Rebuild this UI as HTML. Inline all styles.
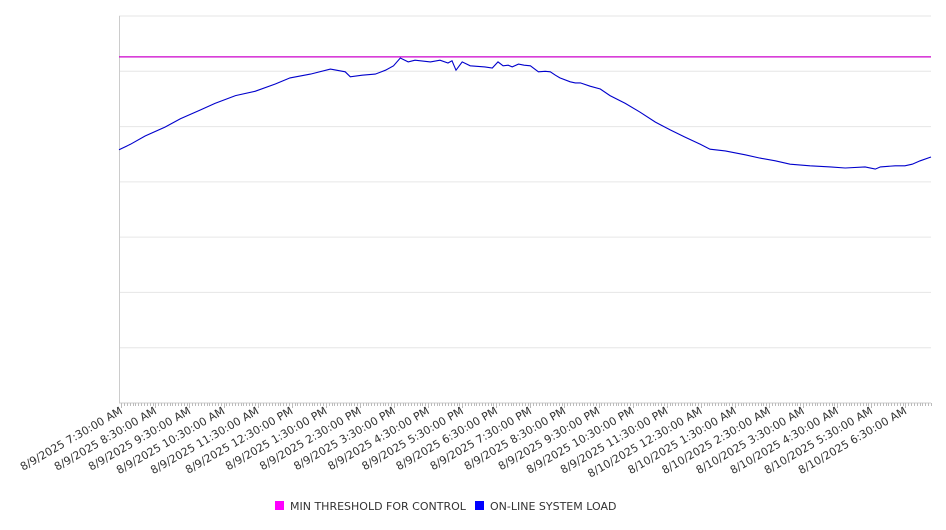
<!DOCTYPE html>
<html><head><meta charset="utf-8"><style>
body{margin:0;background:#fff;width:946px;height:526px;overflow:hidden;font-family:"DejaVu Sans","Liberation Sans",sans-serif}
</style></head><body>
<svg width="946" height="526">
<g id="grid"></g><g id="ticks"></g><g id="labels"></g><g id="series"></g>
<g font-size="11" fill="#333">
<rect x="275" y="501" width="9" height="9" fill="#ff00ff"/>
<text x="290" y="510">MIN THRESHOLD FOR CONTROL</text>
<rect x="475" y="501" width="9" height="9" fill="#0000ff"/>
<text x="490" y="510">ON-LINE SYSTEM LOAD</text>
</g>
</svg>
<script>
const tickLabels=["8/9/2025 7:30:00 AM","8/9/2025 8:30:00 AM","8/9/2025 9:30:00 AM","8/9/2025 10:30:00 AM","8/9/2025 11:30:00 AM","8/9/2025 12:30:00 PM","8/9/2025 1:30:00 PM","8/9/2025 2:30:00 PM","8/9/2025 3:30:00 PM","8/9/2025 4:30:00 PM","8/9/2025 5:30:00 PM","8/9/2025 6:30:00 PM","8/9/2025 7:30:00 PM","8/9/2025 8:30:00 PM","8/9/2025 9:30:00 PM","8/9/2025 10:30:00 PM","8/9/2025 11:30:00 PM","8/10/2025 12:30:00 AM","8/10/2025 1:30:00 AM","8/10/2025 2:30:00 AM","8/10/2025 3:30:00 AM","8/10/2025 4:30:00 AM","8/10/2025 5:30:00 AM","8/10/2025 6:30:00 AM"];
const loadMinutes=[-4,16,42,77,104,139,165,201,236,271,297,333,368,394,403,424,447,465,479,491,505,517,544,561,575,582,589,600,614,640,653,663,672,681,688,699,709,720,734,746,755,764,772,790,799,808,825,843,860,887,913,940,966,992,1019,1036,1063,1098,1124,1151,1177,1212,1248,1274,1309,1327,1336,1362,1379,1392,1406,1425];
const loadValues=[458,468,483,499,514,530,542,556,564,577,588,595,604,599,590,593,595,602,610,624,617,620,617,620,615,619,602,617,610,608,606,617,610,611,608,613,611,610,599,600,599,593,588,581,579,579,573,568,556,542,526,508,494,481,468,459,456,449,443,438,432,429,427,425,427,423,427,429,429,432,438,445];
const thresholdValue=626;
const yMin=0,yMax=700,yStep=100,tMin=-4,tMax=1425;
const X0=119,X1=931,Y0=403,Y1=16;
const xs=t=>X0+(t-tMin)/(tMax-tMin)*(X1-X0);
const ys=v=>Y0-(v-yMin)/(yMax-yMin)*(Y0-Y1);
const NS="http://www.w3.org/2000/svg";
function mk(tag,parent,attrs){const e=document.createElementNS(NS,tag);for(const k in attrs)e.setAttribute(k,attrs[k]);parent.appendChild(e);return e;}
const grid=document.getElementById('grid');
for(let v=yMin;v<=yMax;v+=yStep){const l=mk('line',grid,{x1:X0,x2:X1,y1:ys(v),y2:ys(v),stroke:v===yMin?'#ccc':'#e6e6e6','stroke-width':1});

}
const ax=mk('line',grid,{x1:X0+0.5,x2:X0+0.5,y1:Y1,y2:Y0,stroke:'#ccc'});


const tk=document.getElementById('ticks');
for(let t=0;t<=tMax;t+=5){const x=Math.round(xs(t))+0.5;const tl=mk('line',tk,{x1:x,x2:x,y1:Y0,y2:Y0+(t%60===0?5:3),stroke:'#bbb'});

}
const lb=document.getElementById('labels');
tickLabels.forEach((s,i)=>{const x=xs(i*60)+2,y=413;const t=mk('text',lb,{x:x,y:y,'text-anchor':'end','font-size':11,fill:'#333',transform:`rotate(-30 ${x} ${y})`});t.textContent=s;

});
const sg=document.getElementById('series');
const th=mk('line',sg,{x1:X0,x2:X1,y1:ys(thresholdValue),y2:ys(thresholdValue),stroke:'#cc00cc','stroke-width':1.2});


const pts=loadMinutes.map((t,i)=>xs(t).toFixed(1)+','+ys(loadValues[i]).toFixed(1)).join(' ');
const pl=mk('polyline',sg,{points:pts,fill:'none',stroke:'#0000cc','stroke-width':1.1});


</script>
</body></html>
